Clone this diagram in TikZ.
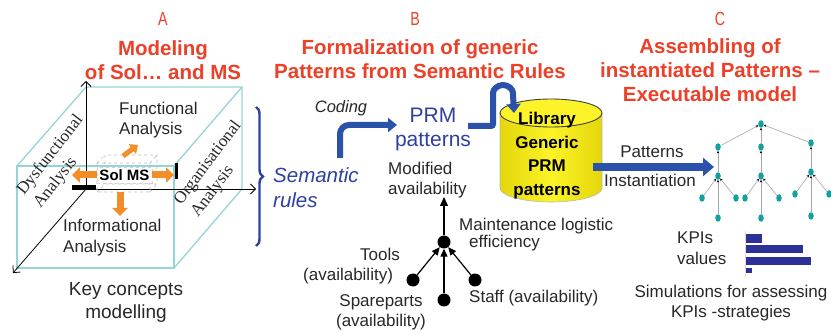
\documentclass[tikz,border=0pt]{standalone}
\usepackage{fontspec}
\usepackage{graphicx}
\setmainfont{Liberation Sans}
\newfontfamily\tnr{Liberation Serif}
\usetikzlibrary{arrows.meta,decorations.pathreplacing,shapes.geometric,calc}
\definecolor{titlered}{RGB}{236,64,40}
\definecolor{cubeteal}{RGB}{150,212,216}
\definecolor{semblue}{RGB}{46,64,160}
\definecolor{arrowblue}{RGB}{42,82,170}
\definecolor{libyellow}{RGB}{252,244,40}
\definecolor{libedge}{RGB}{228,214,10}
\definecolor{treeteal}{RGB}{20,160,160}
\definecolor{barblue}{RGB}{45,48,150}
\definecolor{arrorange}{RGB}{242,142,40}
\definecolor{txt}{RGB}{40,40,40}
\begin{document}
\begin{tikzpicture}[x=1pt,y=-1pt,
  title/.style={text=titlered,font=\fontsize{20.5}{24}\selectfont\bfseries,align=center,inner sep=0,anchor=base},
  letter/.style={text=titlered,font=\fontsize{19}{22}\selectfont,inner sep=0,anchor=base},
  lbl/.style={text=txt,font=\fontsize{17}{20}\selectfont,inner sep=0,align=left,anchor=base west},
  lblc/.style={lbl,align=center,anchor=base},
  rot/.style={text=txt,font=\tnr\fontsize{17}{21}\selectfont,inner sep=0,align=left,anchor=base west},
  cubeedge/.style={cubeteal,line width=1.3},
  axis/.style={black,line width=0.8,-{Straight Barb[length=5pt,width=10pt]}},
  orangearrow/.style={arrorange,line width=7,-{Triangle[width=15pt,length=8pt]}},
  bluearrow/.style={arrowblue,line width=6,-{Triangle[width=14pt,length=9pt]}},
  dot/.style={circle,fill=black,minimum size=13,inner sep=0},
  blackarrow/.style={black,line width=1.2,-{Triangle[width=8pt,length=9pt]}},
  tnode/.style={ellipse,fill=treeteal,minimum width=5.5,minimum height=7.5,inner sep=0},
  tedge/.style={gray!70,line width=0.6,-{Stealth[length=2.5pt,width=2.5pt,black]}},
  bar/.style={fill=barblue}
]
\useasboundingbox (0,0) rectangle (831,334);
\fill[white] (0,0) rectangle (831,334);

% ---------- titles ----------
\node[letter] (lA) at (163,26) {\scalebox{0.75}[1]{A}};
\node[letter] (lB) at (415,26) {\scalebox{0.75}[1]{B}};
\node[letter] (lC) at (720,26) {\scalebox{0.75}[1]{C}};
\node[title] (tA) at (163,80) {Modeling\\of Sol… and MS};
\node[title] (tB) at (420,79) {Formalization of generic\\Patterns from Semantic Rules};
\node[title] (tC) at (710,102) {Assembling of\\instantiated Patterns –\\Executable model};

% ---------- cube (A) ----------
\coordinate (O) at (86,189);
\coordinate (Oup) at (86,81);
\coordinate (Oright) at (256,189);
\coordinate (Odiag) at (13,273);
\draw[cubeedge] (17,166) rectangle (174,268);
\draw[cubeedge] (17,166) -- (86,87) -- (242,87) -- (242,189) -- (174,268);
\draw[cubeedge] (242,87) -- (174,166);
\draw[axis] (O) -- (Oup);
\draw[axis] (O) -- (Oright);
\draw[axis] (O) -- (Odiag);

\node[lbl] (func) at (119,135) {Functional\\Analysis};
\node[lbl,font=\fontsize{17}{21}\selectfont] (info) at (63,253) {Informational\\Analysis};
\node[rot,rotate=52] (dysf) at (40.5,209) {Dysfunctional\\Analysis};
\node[rot,rotate=53] (orga) at (198,218) {Organisational\\Analysis};
\node[lblc,font=\fontsize{19}{23}\selectfont] (key) at (126,318) {Key concepts\\modelling};

% Sol MS icon
\draw[gray!50,dashed,line width=0.7] (97,163) rectangle (150,192) (105,155) rectangle (157,184)
  (97,163) -- (105,155) (150,163) -- (157,155) (150,192) -- (157,184) (97,192) -- (105,184);
\fill[black] (72,185) rectangle (96,190);
\fill[black] (175,163) rectangle (178,179);
\node[fill=white,draw=gray!35,dashed,inner sep=0,minimum width=55,minimum height=16,
      font=\fontsize{15}{18}\selectfont\bfseries,text=black] (solms) at (124.5,175) {Sol MS};
\coordinate (oL) at (72,175);
\coordinate (oR) at (174,175);
\coordinate (oUs) at (123,156);
\coordinate (oU) at (138,145);
\coordinate (oDs) at (120,192);
\coordinate (oD) at (120,216);
\draw[orangearrow] (solms.west) -- (oL);
\draw[orangearrow] (solms.east) -- (oR);
\draw[orangearrow,line width=5,-{Triangle[width=12pt,length=7pt]}] (oUs) -- (oU);
\draw[orangearrow] (oDs) -- (oD);

% brace
\draw[semblue,line width=2.4,decorate,decoration={brace,amplitude=7pt}] (256,107) -- (256,246);

% ---------- B ----------
\node[anchor=base west,inner sep=0,align=left,text=semblue,font=\fontsize{20.5}{25}\selectfont\itshape] (sem) at (273,208) {Semantic\\rules};
\node[anchor=base,inner sep=0,font=\fontsize{16.5}{20}\selectfont\itshape,text=txt] (coding) at (341,113) {Coding};
\node[anchor=base,inner sep=0,align=center,text=semblue,font=\fontsize{21}{24}\selectfont] (prm) at (433,147) {PRM\\patterns};
\coordinate (cs) at (340,158);
\coordinate (ce) at (397,125);
\draw[bluearrow,rounded corners=9] (cs) |- (ce);

% library cylinder
\shade[left color=libedge,right color=libedge,middle color=libyellow]
  (500,113) -- (500,188) arc[x radius=51,y radius=14,start angle=180,end angle=0] -- (602,113) -- cycle;
\draw[gray!55,line width=0.6] (500,113) -- (500,188) arc[x radius=51,y radius=14,start angle=180,end angle=0] -- (602,113);
\draw[black!75,line width=0.9,fill=libyellow] (551,113) ellipse[x radius=51,y radius=14];
\node[anchor=base,inner sep=0,align=center,font=\fontsize{17}{23.5}\selectfont\bfseries,text=black] (lib) at (547,195.5) {Library\\Generic\\PRM\\patterns};
\coordinate (ls) at (468,126);
\coordinate (le) at (514,113);
\draw[bluearrow,rounded corners=2] (ls) -- (493,126) -- (493,95) arc[start angle=180,end angle=360,radius=10] -- (le);

% dependency graph
\node[lbl] (mod) at (388,195) {Modified\\availability};
\node[lbl,font=\fontsize{17}{17.5}\selectfont] (mle) at (459,247.5) {Maintenance logistic\\\hspace*{10pt}efficiency};
\node[dot] (c) at (444,242) {};
\node[dot] (tools) at (413,280) {};
\node[dot] (spare) at (444,300) {};
\node[dot] (staff) at (475,280) {};
\coordinate (mtop) at (444,197);
\draw[blackarrow] (c) -- (mtop);
\draw[blackarrow,-{Triangle[width=7pt,length=8pt]}] (tools) -- (c);
\draw[blackarrow,-{Triangle[width=7pt,length=8pt]}] (spare) -- (c);
\draw[blackarrow,-{Triangle[width=7pt,length=8pt]}] (staff) -- (c);
\node[lbl] (toolst) at (303,280) {\hspace*{57pt}Tools\\(availability)};
\node[lblc] (sparet) at (381,326) {Spareparts\\(availability)};
\node[lbl] (stafft) at (469,302) {Staff (availability)};

% ---------- C ----------
\coordinate (ps) at (593,167);
\coordinate (pe) at (714,167);
\draw[arrowblue,line width=7.5,-{Triangle[width=18pt,length=11pt]}] (ps) -- (pe);
\node[lblc] (patt) at (652,158) {Patterns};
\node[lblc] (inst) at (650,187) {Instantiation};

% tree
\node[tnode] (r) at (761,124) {};
\node[tnode] (a1) at (718,147) {};
\node[tnode] (a2) at (761,147) {};
\node[tnode] (a3) at (811,143) {};
\node[tnode] (b1) at (718,176) {};
\node[tnode] (b2) at (761,176) {};
\node[tnode] (b3) at (811,172) {};
\node[tnode] (b1l) at (702,198) {};
\node[tnode] (b1r) at (736,198) {};
\node[tnode] (b1b) at (718,218) {};
\node[tnode] (b2l) at (745,198) {};
\node[tnode] (b2r) at (779,198) {};
\node[tnode] (b2b) at (761,218) {};
\node[tnode] (b3l) at (795,194) {};
\node[tnode] (b3r) at (829,194) {};
\node[tnode] (b3b) at (811,216) {};
\foreach \ch/\pa in {a1/r,a2/r,a3/r,b1/a1,b2/a2,b3/a3,b1l/b1,b1r/b1,b1b/b1,b2l/b2,b2r/b2,b2b/b2,b3l/b3,b3r/b3,b3b/b3}
  \draw[tedge] (\ch) -- (\pa);

\node[lbl,font=\fontsize{17}{21}\selectfont] (kpi) at (677,265) {KPIs\\values};
\draw[gray!25,line width=0.8] (745,231) -- (745,277);
\fill[bar] (746,234) rectangle (762,243);
\fill[bar] (746,245) rectangle (803,253);
\fill[bar] (746,257) rectangle (811,265);
\fill[bar] (746,268) rectangle (752,273);
\node[lblc] (sim) at (731,317) {Simulations for assessing\\KPIs -strategies};
\end{tikzpicture}
\end{document}
